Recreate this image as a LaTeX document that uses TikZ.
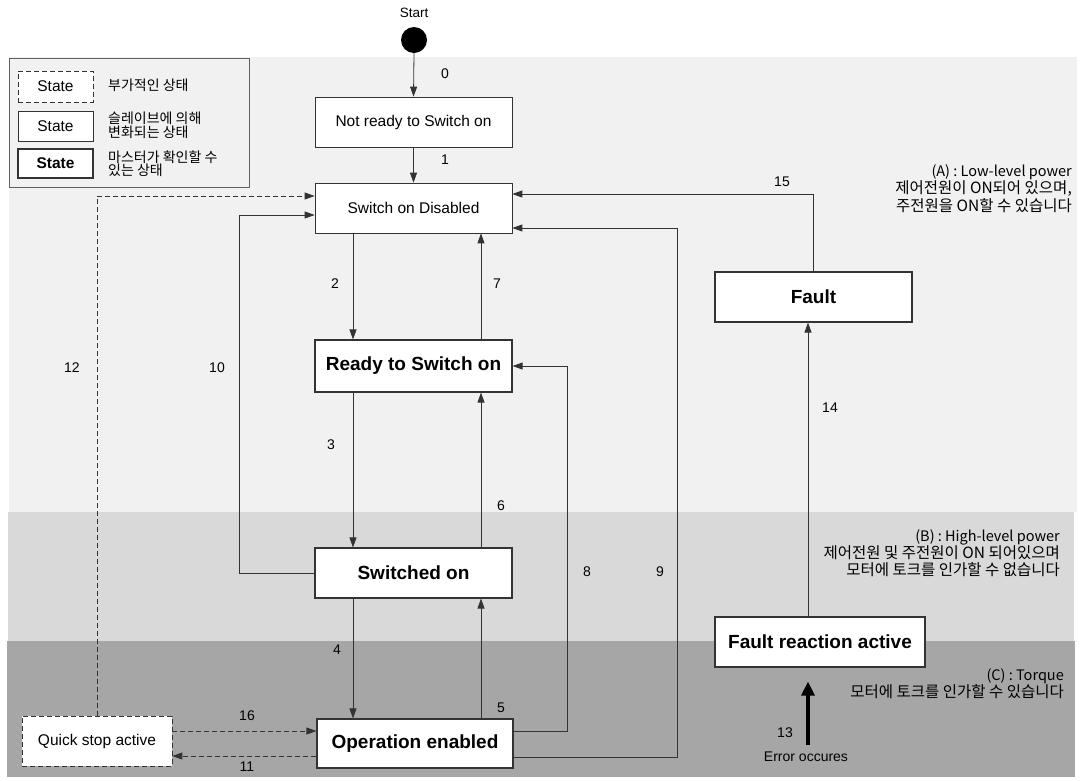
\documentclass[tikz,border=0pt]{standalone}
\usepackage{fontspec}
\setmainfont{Liberation Sans}
\newfontfamily\kr{Noto Sans CJK KR}
\usetikzlibrary{arrows.meta}
\definecolor{regA}{HTML}{F1F1F1}
\definecolor{regB}{HTML}{D9D9D9}
\definecolor{regC}{HTML}{A6A6A6}
\definecolor{ln}{HTML}{333333}
\definecolor{legbd}{HTML}{606060}
\newcommand{\latinsz}{\fontsize{14.5}{17.5}\selectfont}
\begin{document}
\begin{tikzpicture}[x=1pt,y=-1pt,
  box/.style={draw=ln, fill=white, line width=0.7pt, minimum width=197pt, minimum height=50pt, inner sep=0pt, font=\fontsize{15.5}{18}\selectfont},
  bbox/.style={box, line width=1.1pt, font=\fontsize{19}{22}\selectfont\bfseries},
  dbox/.style={box, dash pattern=on 5pt off 3pt},
  arr/.style={draw=ln, line width=0.8pt, -{Triangle[length=10pt,width=7pt]}},
  darr/.style={arr, dash pattern=on 5pt off 3pt},
  lbl/.style={font=\fontsize{14}{16}\selectfont, inner sep=0pt},
  note/.style={font=\kr\fontsize{15.5}{17}\selectfont, align=right, anchor=north east, inner sep=0pt},
  legtxt/.style={font=\kr\fontsize{14}{13.5}\selectfont, align=left, anchor=west, inner sep=0pt},
]
\useasboundingbox (0,0) rectangle (1084,780);
% regions
\fill[regA] (9,57) rectangle (1077,512);
\fill[regB] (8,512) rectangle (1074,641);
\fill[regC] (7,641) rectangle (1075,777);

% legend
\node[draw=legbd, fill=regA, line width=0.7pt, minimum width=240pt, minimum height=129pt, inner sep=0pt] (leg) at (129,122.5) {};
\node[dbox, minimum width=75pt, minimum height=31pt] (lg1) at (55.5,86.5) {State};
\node[box, minimum width=75pt, minimum height=30pt] (lg2) at (55.5,126) {State};
\node[bbox, line width=1.6pt, minimum width=75pt, minimum height=29pt, font=\fontsize{15.5}{18}\selectfont\bfseries] (lg3) at (55.5,163.5) {State};
\node[legtxt] (lt1) at (108,85) {부가적인 상태};
\node[legtxt] (lt2) at (108,125.5) {슬레이브에 의해\\변화되는 상태};
\node[legtxt] (lt3) at (108,163.5) {마스터가 확인할 수\\있는 상태};

% start
\node[circle, fill=black, minimum size=26pt, inner sep=0pt] (start) at (414,40) {};
\node[lbl, font=\fontsize{13.5}{16}\selectfont] (starttxt) at (414,13) {Start};

% states
\node[box] (nr) at (413.5,122) {Not ready to Switch on};
\node[box] (sod) at (413.5,208) {Switch on Disabled};
\node[bbox, minimum height=52pt] (rdy) at (413.5,366) {Ready to Switch on};
\node[bbox] (swo) at (413.5,573) {Switched on};
\node[bbox, minimum width=196pt, minimum height=49pt] (ope) at (415,743.5) {Operation enabled};
\node[dbox, minimum width=150pt] (qsa) at (97,741) {Quick stop active};
\node[bbox] (flt) at (813.5,297) {Fault};
\node[bbox, minimum width=210pt] (fra) at (820,642) {Fault reaction active};

% helper coordinates
\coordinate (xL) at (353,0);
\coordinate (xR) at (481,0);
\coordinate (c10) at (239,215);
\coordinate (c12) at (97,196);
\coordinate (c15) at (0,194);
\coordinate (c9a) at (677,757);
\coordinate (c9b) at (677,228);
\coordinate (c8a) at (567,731);
\coordinate (c8b) at (567,366);
\coordinate (y16) at (0,731);
\coordinate (y11) at (0,756);
\coordinate (x14) at (808,0);
\coordinate (err) at (808,745);

% connectors
\draw[arr] (start.south) -- (nr.north);
\draw[arr] (nr) -- (sod);
\draw[arr] (sod.south -| xL) -- (rdy.north -| xL);
\draw[arr] (rdy.north -| xR) -- (sod.south -| xR);
\draw[arr] (rdy.south -| xL) -- (swo.north -| xL);
\draw[arr] (swo.north -| xR) -- (rdy.south -| xR);
\draw[arr] (swo.south -| xL) -- (ope.north -| xL);
\draw[arr] (ope.north -| xR) -- (swo.south -| xR);
\draw[arr] (swo.west) -| (c10) -- (sod.west |- c10);
\draw[darr] (qsa.north) |- (sod.west |- c12);
\draw[arr] (flt.north) |- (sod.east |- c15);
\draw[arr] (ope.east |- c9a) -- (c9a) -- (c9b) -- (sod.east |- c9b);
\draw[arr] (ope.east |- c8a) -- (c8a) -- (c8b) -- (rdy.east |- c8b);
\draw[darr] (qsa.east |- y16) -- (ope.west |- y16);
\draw[darr] (ope.west |- y11) -- (qsa.east |- y11);
\draw[arr] (fra.north -| x14) -- (flt.south -| x14);
\draw[black, line width=3.2pt, -{Triangle[length=14pt,width=13pt]}] (err) -- ([yshift=-14pt]fra.south -| x14);

% labels
\node[lbl] (l0) at (445,74) {0};
\node[lbl] (l1) at (445,160) {1};
\node[lbl] (l2) at (335,284) {2};
\node[lbl] (l7) at (497,284) {7};
\node[lbl] (l3) at (331,445) {3};
\node[lbl] (l6) at (501,506) {6};
\node[lbl] (l10) at (217,368) {10};
\node[lbl] (l12) at (72,368) {12};
\node[lbl] (l4) at (337,650) {4};
\node[lbl] (l5) at (501,708) {5};
\node[lbl] (l8) at (587,572) {8};
\node[lbl] (l9) at (660,572) {9};
\node[lbl] (l15) at (782,182) {15};
\node[lbl] (l14) at (830,408) {14};
\node[lbl] (l13) at (785,733) {13};
\node[lbl] (l16) at (247,716) {16};
\node[lbl] (l11) at (247,767) {11};
\node[lbl] (errtxt) at (806,757) {Error occures};

% region notes
\node[note, font=\kr\fontsize{15.5}{17.5}\selectfont] (na) at (1072,164) {{\latinsz (A) : Low-level power}\\제어전원이 ON되어 있으며,\\주전원을 ON할 수 있습니다};
\node[note] (nb) at (1060,529) {{\latinsz (B) : High-level power}\\제어전원 및 주전원이 ON 되어있으며\\모터에 토크를 인가할 수 없습니다};
\node[note, font=\kr\fontsize{15.5}{16}\selectfont] (nc) at (1064,668) {{\latinsz (C) : Torque}\\모터에 토크를 인가할 수 있습니다};
\end{tikzpicture}
\end{document}
